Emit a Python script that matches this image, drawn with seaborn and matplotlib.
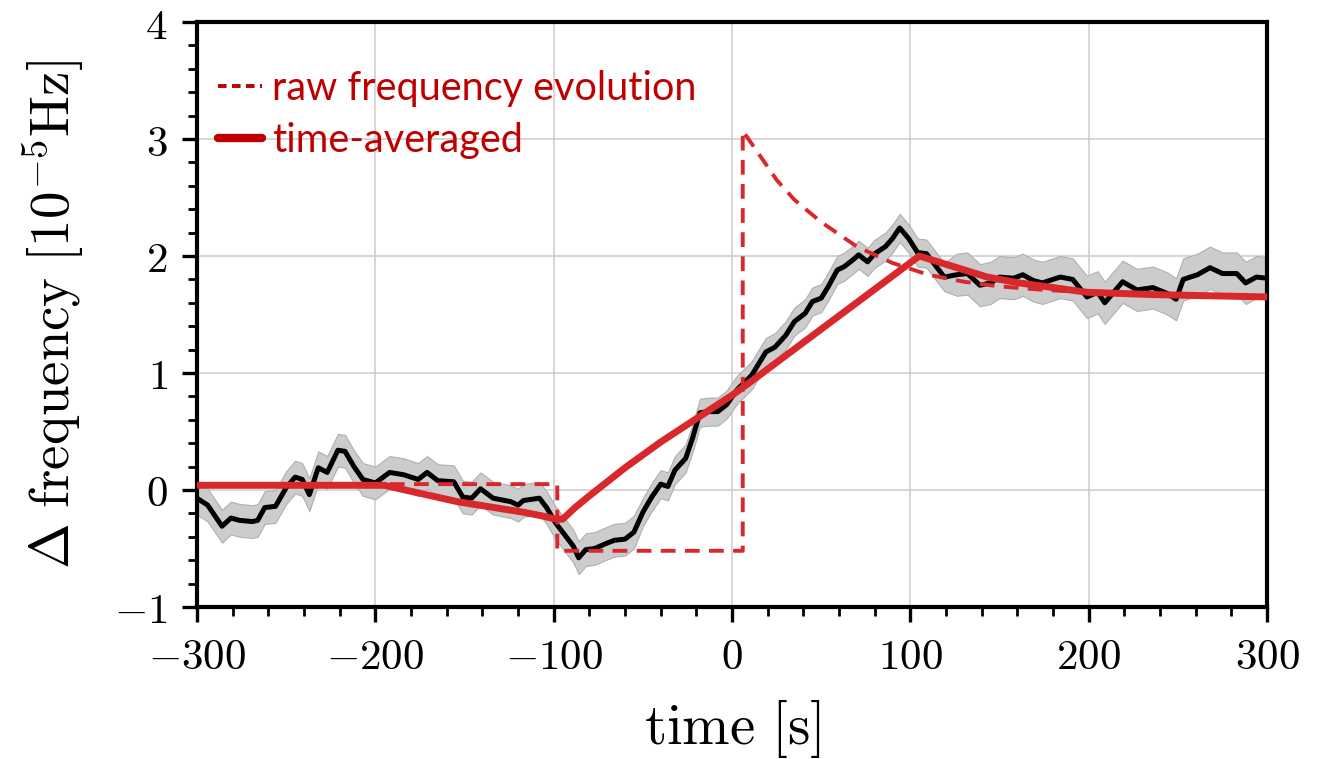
import numpy as np
import pandas as pd
import matplotlib.pyplot as plt
import seaborn as sns
from matplotlib.lines import Line2D
from matplotlib.ticker import MultipleLocator, AutoMinorLocator

t_meas = [-300, -294, -286, -281, -276, -269, -266, -262, -256, -250, -245, -241, -237, -232,
          -227, -221, -217, -212, -207, -200, -192, -184, -176, -171, -165, -156, -151, -146,
          -141, -134, -124, -120, -117, -108, -104, -99, -94, -89, -86, -82, -77, -71, -66,
          -60, -55, -50, -45, -40, -36, -32, -26, -22, -18, -13, -8, -3, 3, 11, 19, 24, 30,
          35, 41, 45, 50, 54, 59, 63, 68, 71, 76, 80, 86, 90, 94, 99, 104, 109, 114, 119,
          126, 132, 139, 145, 150, 158, 163, 169, 174, 184, 191, 199, 205, 209, 219, 227,
          236, 244, 249, 253, 261, 268, 275, 283, 288, 294, 300]
f_meas = [-0.07, -0.13, -0.31, -0.24, -0.26, -0.27, -0.26, -0.15, -0.14, 0.02, 0.11, 0.09, -0.04,
          0.19, 0.15, 0.34, 0.33, 0.20, 0.09, 0.06, 0.15, 0.13, 0.09, 0.15, 0.08, 0.07, -0.06,
          -0.07, 0.01, -0.07, -0.10, -0.13, -0.09, -0.07, -0.15, -0.28, -0.38, -0.48, -0.58,
          -0.51, -0.50, -0.46, -0.43, -0.42, -0.36, -0.19, -0.06, 0.05, 0.03, 0.17, 0.27, 0.45,
          0.66, 0.67, 0.67, 0.73, 0.86, 0.98, 1.18, 1.22, 1.32, 1.44, 1.51, 1.61, 1.64, 1.74,
          1.88, 1.91, 1.97, 2.01, 1.95, 2.02, 2.08, 2.15, 2.24, 2.15, 2.03, 2.02, 1.92, 1.82,
          1.84, 1.85, 1.75, 1.77, 1.82, 1.81, 1.84, 1.79, 1.77, 1.82, 1.80, 1.65, 1.69, 1.60,
          1.78, 1.71, 1.73, 1.68, 1.63, 1.80, 1.84, 1.90, 1.85, 1.85, 1.77, 1.82, 1.81]
# half width of the grey uncertainty band
f_err = [0.14] * 45 + [0.12] * 35 + [0.18] * 27

# raw frequency evolution (dashed)
t_raw = [-300, -98, -98, 6, 6, 16, 25, 35, 50, 70, 90, 110, 130, 150, 175, 200, 250, 300]
f_raw = [0.05, 0.05, -0.52, -0.52, 3.07, 2.85, 2.65, 2.48, 2.29, 2.08, 1.94, 1.84, 1.78,
         1.74, 1.71, 1.69, 1.66, 1.65]

# time-averaged (solid red)
t_avg = [-300, -195, -154, -117, -107, -100, -95, -88, -80, -70, -60, -50, -40, -30, -20,
         -10, 0, 10, 105, 124, 143, 161, 199, 236, 300]
f_avg = [0.04, 0.04, -0.10, -0.19, -0.22, -0.245, -0.25, -0.15, -0.05, 0.07, 0.19, 0.30,
         0.41, 0.51, 0.61, 0.71, 0.81, 0.92, 2.0, 1.91, 1.82, 1.77, 1.69, 1.67, 1.65]

meas = pd.DataFrame({"t": t_meas, "f": f_meas, "e": f_err})
raw = pd.DataFrame({"t": t_raw, "f": f_raw})
avg = pd.DataFrame({"t": t_avg, "f": f_avg})

sns.set_style("whitegrid")
plt.rcParams["mathtext.fontset"] = "cm"
plt.rcParams["font.family"] = ["DejaVu Serif"]
plt.rcParams["text.color"] = "black"
plt.rcParams["axes.labelcolor"] = "black"
plt.rcParams["xtick.color"] = "black"
plt.rcParams["ytick.color"] = "black"

red = "#d9282b"
fig = plt.figure(figsize=(13.24, 7.59), dpi=100)
ax = fig.add_axes([0.1488, 0.2003, 0.8082, 0.7707])

ax.fill_between(meas.t, meas.f - meas.e, meas.f + meas.e, color="#cccccc",
                edgecolor="#b0b0b0", linewidth=0.8, zorder=2)
sns.lineplot(data=meas, x="t", y="f", color="black", linewidth=3.6, estimator=None,
             sort=False, ax=ax, zorder=3)
sns.lineplot(data=raw, x="t", y="f", color=red, linewidth=2.8, linestyle=(0, (3.8, 2.4)),
             estimator=None, sort=False, ax=ax, zorder=4)
sns.lineplot(data=avg, x="t", y="f", color=red, linewidth=5, estimator=None,
             sort=False, ax=ax, zorder=5)

ax.set_xlim(-300, 300)
ax.set_ylim(-1, 4)
ax.xaxis.set_major_locator(MultipleLocator(100))
ax.yaxis.set_major_locator(MultipleLocator(1))
ax.xaxis.set_minor_locator(AutoMinorLocator(5))
ax.yaxis.set_minor_locator(AutoMinorLocator(5))
ax.grid(which="major", color="#cccccc", linewidth=1.1)
ax.grid(which="minor", visible=False)

for s in ax.spines.values():
    s.set_color("black")
    s.set_linewidth(3)
ax.tick_params(which="both", bottom=True, left=True, direction="out",
               color="black", labelcolor="black")
ax.tick_params(which="major", length=11, width=2.4, labelsize=31, pad=10)
ax.tick_params(which="minor", length=6.5, width=2)

xt = [-300, -200, -100, 0, 100, 200, 300]
ax.set_xticks(xt)
ax.set_xticklabels([f"${v}$" for v in xt])
yt = [-1, 0, 1, 2, 3, 4]
ax.set_yticks(yt)
ax.set_yticklabels([f"${v}$" for v in yt])

ax.set_xlabel(r"$\mathrm{time}\ [\mathrm{s}]$", fontsize=41, labelpad=14)
ax.set_ylabel(r"$\Delta\ \mathrm{frequency}\ [10^{-5}\mathrm{Hz}]$", fontsize=39.5,
              labelpad=20)

handles = [Line2D([], [], color="#c00000", linewidth=2.8, linestyle=(0, (2.2, 1.4))),
           Line2D([], [], color="#c00000", linewidth=6)]
leg = ax.legend(handles, ["raw frequency evolution", "time-averaged"], loc="upper left",
                bbox_to_anchor=(0.02, 0.918), frameon=False, handlelength=1.1,
                handletextpad=0.25, labelspacing=0.38, borderaxespad=0, borderpad=0,
                prop={"family": "Lato", "size": 28.5}, labelcolor="#c00000")

fig.savefig("out.png", dpi=100)
